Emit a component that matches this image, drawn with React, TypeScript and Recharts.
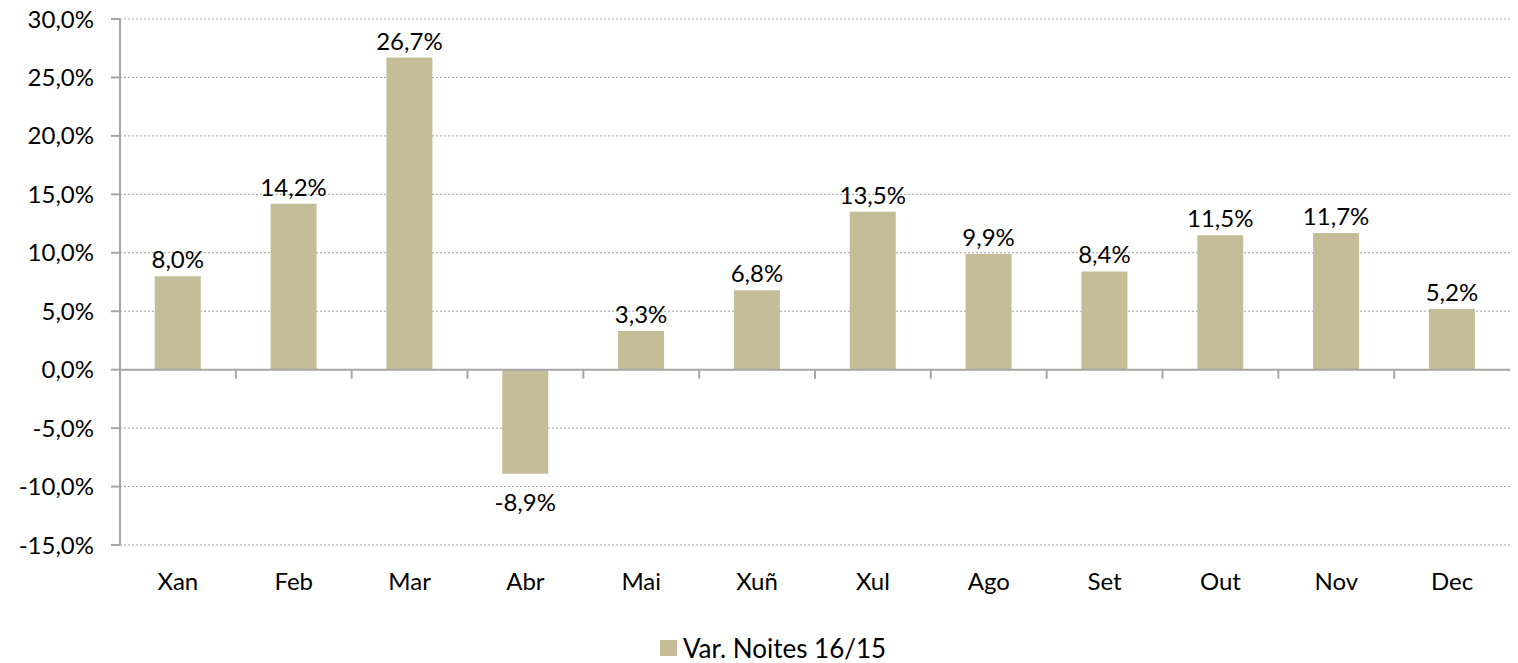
import { BarChart, Bar, XAxis, YAxis, CartesianGrid, Legend, LabelList, ReferenceLine } from 'recharts';

const months = ['Xan', 'Feb', 'Mar', 'Abr', 'Mai', 'Xuñ', 'Xul', 'Ago', 'Set', 'Out', 'Nov', 'Dec'];
const variation = [8.0, 14.2, 26.7, -8.9, 3.3, 6.8, 13.5, 9.9, 8.4, 11.5, 11.7, 5.2];
const yTicks = [-15, -10, -5, 0, 5, 10, 15, 20, 25, 30];
const seriesName = 'Var. Noites 16/15';

const data = months.map((m, i) => ({ month: m, value: variation[i] }));

const FONT = 'Lato, "Open Sans", sans-serif';
const AXIS_GRAY = '#a6a6a6';
const BAR_COLOR = '#c4bd97';

const pct = (v: number) => `${v.toFixed(1).replace('.', ',')}%`;

// zero line with tick marks between categories, like Excel's axis at 0
function ZeroAxis(props: any) {
  const { x1, x2, y1 } = props;
  const step = (x2 - x1) / months.length;
  const marks = [];
  for (let i = 1; i < months.length; i++) {
    const x = x1 + step * i;
    marks.push(<line key={i} x1={x} x2={x} y1={y1} y2={y1 + 9} stroke={AXIS_GRAY} strokeWidth={2} />);
  }
  return (
    <g>
      <line x1={x1} x2={x2} y1={y1} y2={y1} stroke={AXIS_GRAY} strokeWidth={2} />
      {marks}
    </g>
  );
}

// value label: above positive bars, further below negative ones
function ValueLabel(props: any) {
  const { x, y, width, height, value } = props;
  const top = Math.min(y, y + height);
  const bottom = Math.max(y, y + height);
  const v = Number(value);
  const ty = v >= 0 ? top - 8 : bottom + 37;
  return (
    <text x={x + width / 2} y={ty} textAnchor="middle" fill="#000" fontSize={24} fontFamily={FONT}>
      {pct(v)}
    </text>
  );
}

function LegendContent() {
  return (
    <div style={{ height: 30, display: 'flex', justifyContent: 'center', alignItems: 'center', paddingLeft: 36, fontFamily: FONT, fontSize: 26, color: '#000' }}>
      <span style={{ width: 17, height: 16, background: BAR_COLOR, marginRight: 6, display: 'inline-block' }} />
      <span>{seriesName}</span>
    </div>
  );
}

export default function App() {
  return (
    <div style={{ position: 'absolute', left: 0, top: 0, background: '#fff' }}>
      <BarChart
        width={1518}
        height={663}
        data={data}
        margin={{ top: 19, right: 8, left: 0, bottom: 0 }}
        barCategoryGap="30%"
      >
        <CartesianGrid vertical={false} stroke="#a0a0a0" strokeDasharray="2 2" />
        <XAxis
          dataKey="month"
          axisLine={false}
          tickLine={false}
          height={88}
          tickMargin={22}
          tick={{ fill: '#000', fontSize: 24, fontFamily: FONT }}
        />
        <YAxis
          domain={[-15, 30]}
          ticks={yTicks}
          interval={0}
          width={120}
          tickFormatter={(v: number) => pct(v)}
          axisLine={{ stroke: AXIS_GRAY, strokeWidth: 2 }}
          tickLine={{ stroke: AXIS_GRAY, strokeWidth: 2 }}
          tickSize={9}
          tickMargin={17}
          tick={{ fill: '#000', fontSize: 24, fontFamily: FONT }}
        />
        <ReferenceLine y={0} shape={ZeroAxis} />
        <Legend verticalAlign="bottom" align="center" content={LegendContent} />
        <Bar dataKey="value" name={seriesName} fill={BAR_COLOR} isAnimationActive={false}>
          <LabelList dataKey="value" content={ValueLabel} />
        </Bar>
      </BarChart>
    </div>
  );
}
